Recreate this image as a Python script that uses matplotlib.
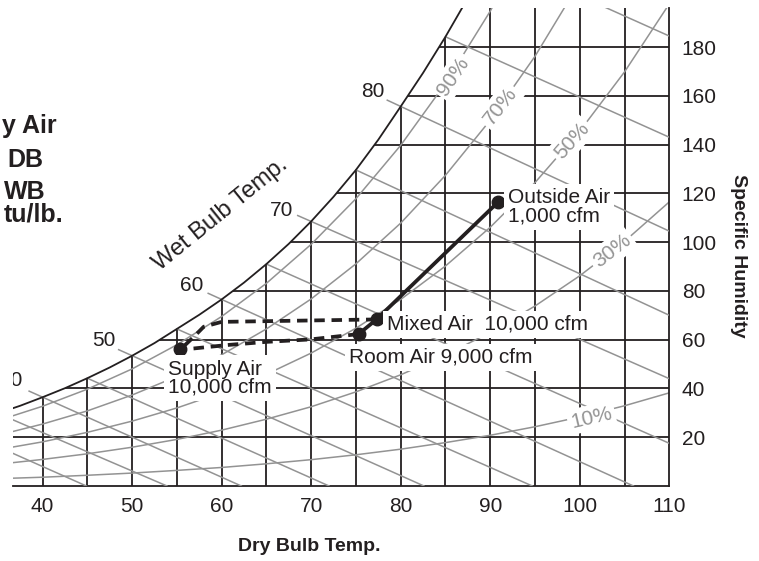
import matplotlib
matplotlib.use("Agg")
import matplotlib.pyplot as plt

plt.rcParams['font.family'] = ['Liberation Sans', 'DejaVu Sans']

INK = '#231f20'
GREY = '#939393'

# ---- values: dry bulb (F) and moisture (grains / lb dry air) ----
sat_t = [35, 37.5, 40, 42.5, 45, 47.5, 50, 52.5, 55, 57.5, 60, 62.5, 65, 67.5,
         70, 72.5, 75, 77.5, 80, 82.5, 85, 87.5, 90]
sat_w = [29.8, 32.9, 36.4, 40.1, 44.2, 48.6, 53.4, 58.6, 64.4, 70.2, 76.5, 83.4,
         91.0, 99.3, 108.5, 118.6, 129.6, 142.0, 155.6, 169.4, 184.2, 200.1, 217.4]

rh_t = [35, 40, 45, 50, 55, 60, 65, 70, 75, 80, 85, 90, 95, 100, 105, 110]
rh_90 = [26.8, 32.7, 39.7, 48.0, 57.9, 69.5, 83.1, 99.1, 117.8, 139.7, 165.1, 194.7, 229.1]
rh_70 = [20.8, 25.4, 30.8, 37.3, 44.9, 53.8, 64.4, 76.7, 91.1, 107.8, 127.4, 150.0, 176.2, 206.5]
rh_50 = [14.9, 18.1, 22.0, 26.6, 32.0, 38.3, 45.8, 54.5, 64.7, 76.5, 90.2, 106.1, 124.4,
         145.5, 169.8, 197.7]
rh_30 = [8.9, 10.9, 13.2, 15.9, 19.1, 22.9, 27.4, 32.5, 38.6, 45.6, 53.7, 63.0, 73.8,
         86.2, 100.3, 116.5]
rh_10 = [3.0, 3.6, 4.4, 5.3, 6.4, 7.6, 9.1, 10.8, 12.8, 15.1, 17.8, 20.8, 24.3, 28.3,
         32.9, 38.2]
rh_curves = [rh_90, rh_70, rh_50, rh_30, rh_10]
rh_labels = ['90%', '70%', '50%', '30%', '10%']
rh_label_t = [85.9, 91.1, 99.1, 103.6, 101.3]
rh_label_w = [168.0, 155.6, 141.7, 96.4, 28.0]
rh_label_rot = [56, 52, 48, 38, 13]

wb_temps = [30, 35, 40, 45, 50, 55, 60, 65, 70, 75, 80, 85, 90]
wb_start_t = [30, 35, 38.5, 45, 48.5, 55, 58.5, 65, 68.5, 75, 78.5, 85, 90]
wb_start_w = [24.3, 29.8, 38.9, 44.2, 55.9, 64.4, 79.0, 91.0, 110.9, 129.6, 158.2, 184.2, 217.4]
wb_end_t = [44.9, 53.9, 62.2, 72.0, 82.6, 94.7, 106.0, 110, 110, 110, 110, 110, 110]
wb_end_w = [0, 0, 0, 0, 0, 0, 0, 17.5, 44.0, 70.0, 104.5, 143.0, 184.5]
wb_labels = ['40', '50', '60', '70', '80']
wb_label_t = [36.5, 46.8, 56.7, 66.7, 76.9]
wb_label_w = [43.4, 59.8, 82.4, 112.8, 161.6]

db_grid = [40, 45, 50, 55, 60, 65, 70, 75, 80, 85, 90, 95, 100, 105]
sh_grid = [20, 40, 60, 80, 100, 120, 140, 160, 180]

pt_names = ['Outside Air\n1,000 cfm', 'Mixed Air  10,000 cfm', 'Room Air 9,000 cfm',
            'Supply Air\n10,000 cfm']
pt_t = [90.9, 77.3, 75.3, 55.4]
pt_w = [116.5, 68.3, 62.3, 56.0]

mix_t = [75.3, 77.3, 90.9]
mix_w = [62.3, 68.3, 116.5]
coil_t = [77.3, 60.0, 58.0, 56.9, 55.4]
coil_w = [68.3, 67.3, 65.3, 61.2, 56.0]
room_t = [75.3, 69.9, 65.0, 60.6, 56.9, 55.4]
room_w = [62.3, 60.1, 59.1, 57.8, 56.4, 56.0]

fig = plt.figure(figsize=(7.59, 5.61), dpi=100)
ax = fig.add_axes([13 / 759, 75 / 561, 656.3 / 759, 478 / 561])
ax.set_xlim(36.7, 110)
ax.set_ylim(0, 196)

# grid
for t in db_grid:
    ax.axvline(t, color=INK, lw=1.3, zorder=1)
for w in sh_grid:
    ax.axhline(w, color=INK, lw=1.3, zorder=1)

# relative humidity curves
for w in rh_curves:
    ax.plot(rh_t[:len(w)], w, color=GREY, lw=1.1, zorder=1.5)

# blank out everything above saturation
ax.fill_between(sat_t, sat_w, 400, color='white', lw=0, zorder=2)

# wet bulb lines
for i in range(len(wb_temps)):
    ax.plot([wb_start_t[i], wb_end_t[i]], [wb_start_w[i], wb_end_w[i]],
            color=GREY, lw=1.1, zorder=3)

ax.plot(sat_t, sat_w, color=INK, lw=1.3, zorder=4)

for lab, t, w in zip(wb_labels, wb_label_t, wb_label_w):
    ax.text(t, w, lab, ha='center', va='center', fontsize=15, color=INK,
            clip_on=True, zorder=5)

for lab, t, w, r in zip(rh_labels, rh_label_t, rh_label_w, rh_label_rot):
    ax.text(t, w, lab, ha='center', va='center', rotation=r, fontsize=15,
            color=GREY, zorder=5,
            bbox=dict(boxstyle='square,pad=0.15', fc='white', ec='none'))

ax.text(59.9, 111.5, 'Wet Bulb Temp.', rotation=39, ha='center', va='center',
        fontsize=17, color=INK, zorder=5)

# process lines
ax.plot(mix_t, mix_w, color=INK, lw=2.7, zorder=6, solid_capstyle='round')
ax.plot(coil_t, coil_w, color=INK, lw=2.7, ls=(0, (2.8, 1.8)), zorder=6)
ax.plot(room_t, room_w, color=INK, lw=2.7, ls=(0, (2.8, 1.8)), zorder=6)
ax.plot(pt_t, pt_w, 'o', color=INK, ms=9, zorder=7)

offsets = [(7, -3.6), (7.6, -3.6), (-6.7, -16.8), (-9, -20.7)]
for name, t, w, off in zip(pt_names, pt_t, pt_w, offsets):
    ax.annotate(name, (t, w), xytext=off, textcoords='offset points',
                ha='left', va='center', fontsize=15, color=INK, linespacing=0.95,
                zorder=8,
                bbox=dict(boxstyle='square,pad=0.2', fc='white', ec='none'))

# axes
for s in ['top', 'left']:
    ax.spines[s].set_visible(False)
for s in ['right', 'bottom']:
    ax.spines[s].set_color(INK)
    ax.spines[s].set_linewidth(1.3)
ax.yaxis.tick_right()
ax.set_xticks(range(40, 111, 10))
ax.set_yticks(sh_grid)
ax.tick_params(axis='x', length=0, labelsize=15, labelcolor=INK, pad=8.2)
ax.tick_params(axis='y', length=0, labelsize=15, labelcolor=INK, pad=9)

ax.text(0.451, -0.127, 'Dry Bulb Temp.', transform=ax.transAxes, ha='center',
        va='center', fontsize=14, fontweight='bold', color=INK)
ax.text(1.106, 0.481, 'Specific Humidity', transform=ax.transAxes, ha='center',
        va='center', rotation=270, fontsize=14, fontweight='bold', color=INK)

# cropped legend text at the left edge
left_lines = ['y Air', 'DB', 'WB', 'tu/lb.']
left_right = [57, 43.5, 46, 63]
left_base = [133, 166.7, 199.3, 221.7]
for s, x, y in zip(left_lines, left_right, left_base):
    fig.text(x / 759, 1 - y / 561, s, ha='right', va='baseline', fontsize=18,
             fontweight='bold', color=INK)

fig.savefig('out.png', dpi=100)
